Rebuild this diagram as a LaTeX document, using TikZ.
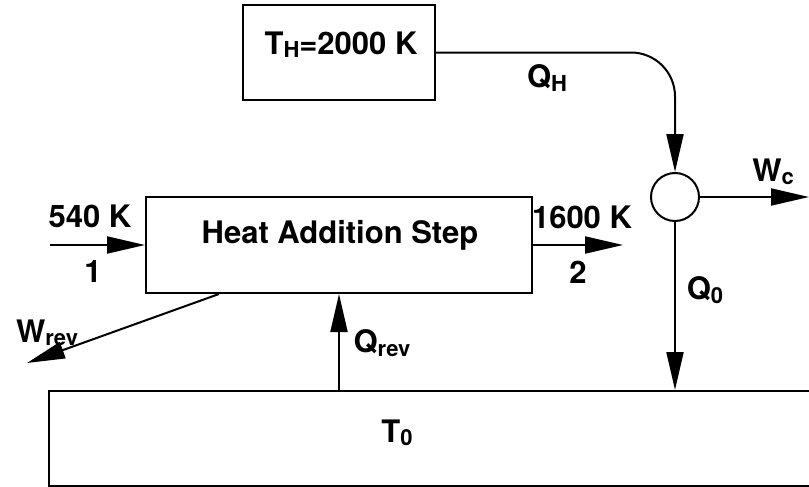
\documentclass[tikz,border=0pt]{standalone}
\usepackage{fontspec}
\setmainfont{TeX Gyre Heros}
\usetikzlibrary{calc,positioning,arrows.meta}
\newcommand{\idx}[1]{\raisebox{-0.2ex}{\fontsize{11}{12}\selectfont #1}}

\begin{document}
\begin{tikzpicture}[x=0.5pt, y=-0.5pt, line width=1pt,
  font=\fontsize{15.5}{18}\selectfont\bfseries,
  box/.style={draw, rectangle, inner sep=0pt},
  flow/.style={-{Triangle[length=19pt,width=8.5pt]}}]
  \clip (0,0) rectangle (809,487);
  % reservoirs and the heat addition step
  \node[box, minimum width=96pt, minimum height=47.5pt] (th) at (339,52.5) {};
  \node (thtxt) at (341,45) {T\idx{H}=2000 K};
  \node[box, minimum width=193pt, minimum height=48pt] (has) at (339,245) {};
  \node (hastxt) at (340,235) {Heat Addition Step};
  \node[box, anchor=north west, minimum width=420pt, minimum height=47.5pt] (sink) at (48,390) {};
  \node (t0txt) at (397,433) {T\idx{0}};
  \node[draw, circle, minimum size=24pt, inner sep=0pt] (mix) at (675,197) {};
  % free ends
  \coordinate (in1) at (50,245);
  \coordinate (out2) at (623,245);
  \coordinate (wc) at (809,197);
  \coordinate (wrev) at (27,363);
  % flows
  \draw[flow, rounded corners=22pt] (th.east) -- (th.east -| mix.north) -- (mix.north);
  \draw[flow] (mix.east) -- (wc);
  \draw[flow] (mix.south) -- (mix.south |- sink.north);
  \draw[flow] (in1) -- (has.west);
  \draw[flow] (has.east) -- (out2);
  \draw[flow] (has.south |- sink.north) -- (has.south);
  \draw[flow] ($(has.south west)+(74,0)$) -- (wrev);
  % labels
  \node (lqh) at (547,78) {Q\idx{H}};
  \node (lwc) at (773,172) {W\idx{c}};
  \node (l540) at (90,216) {540 K};
  \node (l1) at (93,272) {1};
  \node (l1600) at (582,217) {1600 K};
  \node (l2) at (578,272) {2};
  \node (lq0) at (705,290) {Q\idx{0}};
  \node (lwrev) at (47,333) {W\idx{rev}};
  \node (lqrev) at (382,343) {Q\idx{rev}};
\end{tikzpicture}
\end{document}
